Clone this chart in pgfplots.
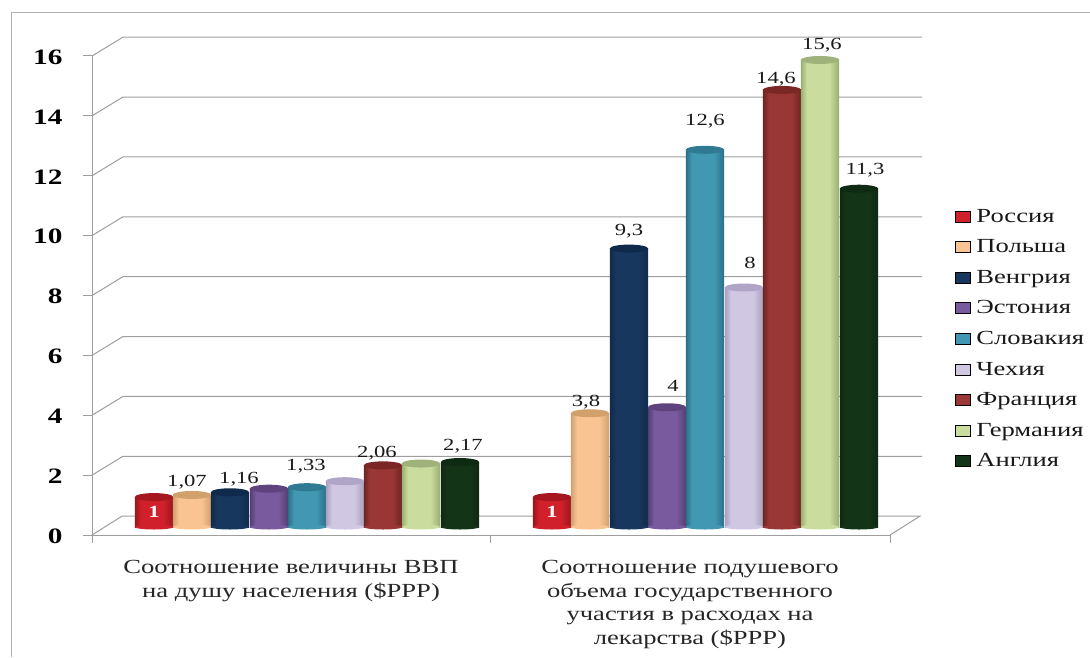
\documentclass[border=0pt]{standalone}
\usepackage{fontspec}
\usepackage{pgfplots}
\usepackage{pgfplotstable}
\pgfplotsset{compat=1.18}
\setmainfont[FakeStretch=1.33]{Liberation Serif}

% Each country: body colour, edge colour, cap colour, and a horizontal cylinder shading
\newcommand{\defcyl}[4]{%
  \definecolor{#1}{HTML}{#2}\definecolor{#1E}{HTML}{#3}\definecolor{#1T}{HTML}{#4}%
  \pgfdeclarehorizontalshading{#1S}{100bp}{color(0bp)=(#1E); color(25bp)=(#1E); color(33bp)=(#1); color(62bp)=(#1); color(75bp)=(#1E); color(100bp)=(#1E)}%
}
\defcyl{cRu}{D0202B}{9A151C}{A5161E}
\defcyl{cPl}{F9C491}{CFA070}{D2A06A}
\defcyl{cHu}{17375E}{102A4A}{0F2A4A}
\defcyl{cEe}{7A5A9E}{533C74}{5F437F}
\defcyl{cSk}{4298B2}{2A6F87}{2F7A92}
\defcyl{cCz}{D0C7E2}{A99EBE}{B0A5C6}
\defcyl{cFr}{983735}{6E2422}{7A2725}
\defcyl{cDe}{CBDD9E}{98AE72}{A0B27B}
\defcyl{cUk}{143418}{0E2A12}{0F2A12}

\pgfdeclareplotmark{cylcap}{%
  \pgfpathellipse{\pgfpointorigin}{\pgfqpoint{19.2pt}{0pt}}{\pgfqpoint{0pt}{4pt}}\pgfusepathqfill}
\pgfdeclareplotmark{cylbase}{%
  \pgfpathellipse{\pgfpointorigin}{\pgfqpoint{19.2pt}{0pt}}{\pgfqpoint{0pt}{2.5pt}}\pgfusepathqfill}

% Values by country: x position of the two cylinders, then the value
\pgfplotstableread{
x v
154 1
552 1
}\tRu
\pgfplotstableread{
x v
192 1.07
590 3.8
}\tPl
\pgfplotstableread{
x v
230 1.16
629 9.3
}\tHu
\pgfplotstableread{
x v
269 1.28
667 4
}\tEe
\pgfplotstableread{
x v
307 1.33
705 12.6
}\tSk
\pgfplotstableread{
x v
345 1.53
744 8
}\tCz
\pgfplotstableread{
x v
383 2.06
782 14.6
}\tFr
\pgfplotstableread{
x v
421 2.12
820 15.6
}\tDe
\pgfplotstableread{
x v
460 2.17
859 11.3
}\tUk

% Value labels with their offsets from the cylinder top
\pgfplotstableread{
x v dx dy lab
192 1.07 -5 13 1,07
230 1.16 9 13 1,16
307 1.33 -1 21 1,33
383 2.06 -6 12 2,06
460 2.17 3 16 2,17
590 3.8 -4 11 3,8
629 9.3 0 17 9,3
667 4 6 21 4
705 12.6 0 29 12,6
744 8 6 25 8
782 14.6 -6 11 14,6
820 15.6 2 15 15,6
859 11.3 6 19 11,3
}\tLabels
\pgfplotstableread{
x v lab
154 1 1
552 1 1
}\tInner

% One shaded body per group, so that the shading spans a single cylinder
\newcommand{\cyl}[2]{%
  \addplot[forget plot, only marks, mark=cylbase, mark options={draw=none, fill=#1}] table[x=x, y expr=0] {#2};
  \addplot[forget plot, ybar, bar width=38.4pt, bar shift=0pt, draw=none, shading=#1S, shading angle=0,
    restrict x to domain=0:500] table[x=x, y=v] {#2};
  \addplot[forget plot, ybar, bar width=38.4pt, bar shift=0pt, draw=none, shading=#1S, shading angle=0,
    restrict x to domain=500:900] table[x=x, y=v] {#2};
  \addplot[forget plot, only marks, mark=cylcap, mark options={draw=none, fill=#1T}] table[x=x, y=v] {#2};
}

\begin{document}
\begin{tikzpicture}[x=1pt, y=1pt]
\useasboundingbox (0,0) rectangle (1090,657);
\draw[line width=1pt, black!30] (11,0) -- (11,644) -- (1090,644);

% Walls, floor and value axis
\begin{axis}[
  at={(92pt,122pt)}, anchor=south west,
  scale only axis, width=798pt, height=479pt,
  xmin=92, xmax=890, ymin=0, ymax=16,
  clip=false,
  axis x line=bottom, axis y line=left,
  axis line style={-, draw=black!38, line width=1pt},
  ytick={0,2,...,16},
  xtick={291,690},
  minor xtick={92,490,890},
  xticklabels={{Соотношение величины ВВП\\на душу населения (\$PPP)},
               {Соотношение подушевого\\объема государственного\\участия в расходах на\\лекарства (\$PPP)}},
  major tick length=9pt,
  minor tick length=8pt,
  tick align=outside,
  major x tick style={draw=none},
  minor x tick style={draw=black!38, line width=1pt},
  major y tick style={draw=black!38, line width=1pt},
  /pgf/number format/assume math mode=true,
  yticklabel style={font=\fontsize{22}{24}\selectfont\bfseries, xshift=-17pt, yshift=-1pt},
  xticklabel style={font=\fontsize{20}{23.5}\selectfont, align=center, anchor=north, yshift=-13pt, text=black!85},
]
\addplot[black!38, line width=1pt] coordinates {(92,0)(122,0.63)(920,0.63)(890,0)};
\addplot[black!38, line width=1pt] coordinates {(92,2)(123,2.63)(922,2.63)};
\addplot[black!38, line width=1pt] coordinates {(92,4)(123,4.63)(922,4.63)};
\addplot[black!38, line width=1pt] coordinates {(92,6)(123,6.63)(922,6.63)};
\addplot[black!38, line width=1pt] coordinates {(92,8)(123,8.63)(922,8.63)};
\addplot[black!38, line width=1pt] coordinates {(92,10)(123,10.63)(922,10.63)};
\addplot[black!38, line width=1pt] coordinates {(92,12)(123,12.63)(922,12.63)};
\addplot[black!38, line width=1pt] coordinates {(92,14)(123,14.63)(922,14.63)};
\addplot[black!38, line width=1pt] coordinates {(92,16)(123,16.63)(922,16.63)};
\end{axis}

% Cylinders stand slightly behind the front edge of the floor
\begin{axis}[
  at={(92pt,122pt)}, anchor=south west,
  scale only axis, width=798pt, height=479pt,
  xmin=92, xmax=890, ymin=-0.267, ymax=15.733,
  clip=false, hide axis,
  legend cell align=left,
  legend image code/.code={\fill[#1] (0pt,-5.5pt) rectangle (15pt,5.5pt);},
  legend style={draw=none, fill=none, at={(axis cs:955,10.72)}, anchor=north west,
    font=\fontsize{20}{20}\selectfont, row sep=9.95pt, inner sep=0pt, outer sep=0pt,
    nodes={inner sep=3pt, text=black!90}},
  legend image post style={},
  /tikz/every odd column/.append style={column sep=3pt},
]
\addlegendimage{fill=cRu}\addlegendentry{Россия}
\addlegendimage{fill=cPl}\addlegendentry{Польша}
\addlegendimage{fill=cHu}\addlegendentry{Венгрия}
\addlegendimage{fill=cEe}\addlegendentry{Эстония}
\addlegendimage{fill=cSk}\addlegendentry{Словакия}
\addlegendimage{fill=cCz}\addlegendentry{Чехия}
\addlegendimage{fill=cFr}\addlegendentry{Франция}
\addlegendimage{fill=cDe}\addlegendentry{Германия}
\addlegendimage{fill=cUk}\addlegendentry{Англия}

\cyl{cRu}{\tRu}
\cyl{cPl}{\tPl}
\cyl{cHu}{\tHu}
\cyl{cEe}{\tEe}
\cyl{cSk}{\tSk}
\cyl{cCz}{\tCz}
\cyl{cFr}{\tFr}
\cyl{cDe}{\tDe}
\cyl{cUk}{\tUk}

\addplot[forget plot, draw=none, mark=none, point meta=explicit symbolic,
  visualization depends on={\thisrow{dx} \as \labdx},
  visualization depends on={\thisrow{dy} \as \labdy},
  nodes near coords,
  every node near coord/.append style={anchor=center, inner sep=0pt,
    xshift=\labdx pt, yshift=\labdy pt, font=\fontsize{17}{18}\selectfont, text=black!90}]
  table[x=x, y=v, meta=lab] {\tLabels};
\addplot[forget plot, draw=none, mark=none, point meta=explicit symbolic,
  nodes near coords,
  every node near coord/.append style={anchor=center, inner sep=0pt,
    yshift=-15pt, font=\fontsize{17}{18}\selectfont\bfseries, text=white}]
  table[x=x, y=v, meta=lab] {\tInner};
\end{axis}
\end{tikzpicture}
\end{document}
